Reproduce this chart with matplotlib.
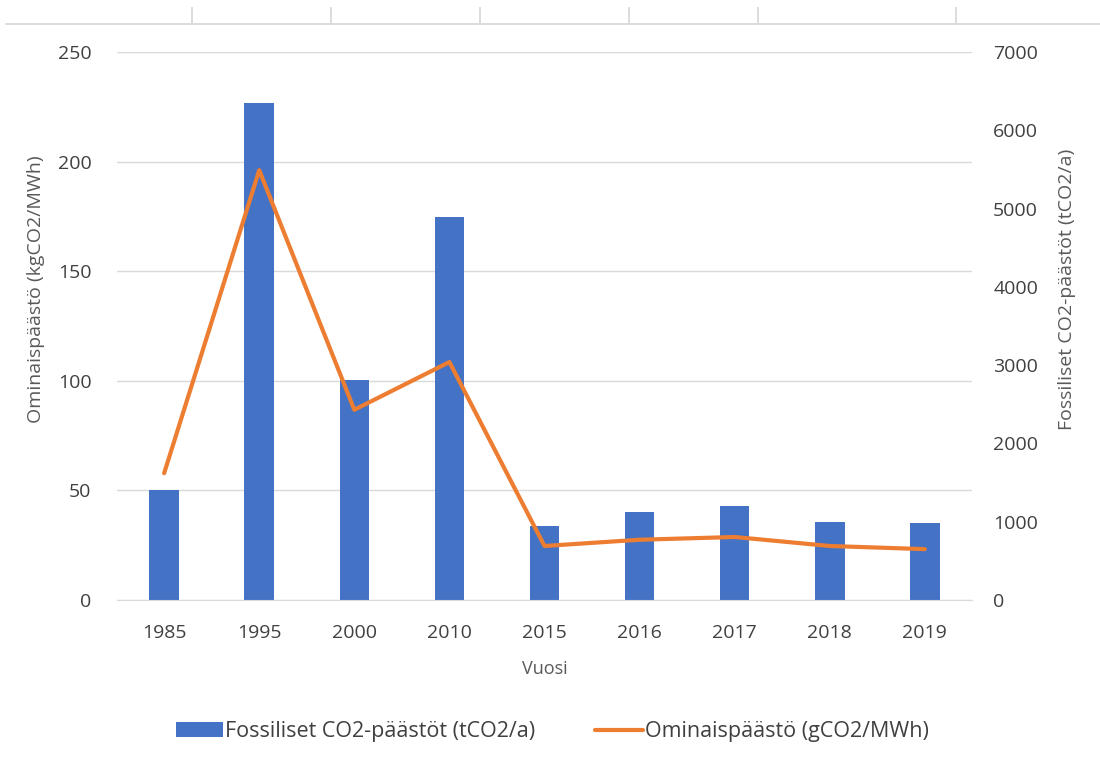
import matplotlib.pyplot as plt
from matplotlib.lines import Line2D
import numpy as np

plt.rcParams["font.family"] = ["Open Sans", "DejaVu Sans"]

# ----------- data -------------------------------------
years = ["1985", "1995", "2000", "2010", "2015", "2016", "2017", "2018", "2019"]
fossil_co2 = [50.2, 226.7, 100.4, 174.7, 33.8, 40.1, 42.9, 35.6, 35.1]  # left axis
specific_em = [1620, 5490, 2430, 3040, 690, 770, 805, 690, 650]  # right axis

BAR_COLOR = "#4472C4"
LINE_COLOR = "#ED7D31"
GRID_COLOR = "#D9D9D9"
TEXT_COLOR = "#404040"
LABEL_COLOR = "#595959"

fig = plt.figure(figsize=(11, 7.6), dpi=100)
ax = fig.add_axes([0.106, 0.2105, 0.778, 0.7211])
ax2 = ax.twinx()

x = np.arange(len(years))
ax.bar(x, fossil_co2, width=0.31, color=BAR_COLOR, zorder=2,
       label="Fossiliset CO2-päästöt (tCO2/a)")
ax2.plot(x, specific_em, color=LINE_COLOR, lw=3, solid_capstyle="round",
         label="Ominaispäästö (gCO2/MWh)")

ax.set_xlim(-0.5, len(years) - 0.5)
ax.set_ylim(0, 250)
ax.set_yticks(range(0, 251, 50))
ax2.set_ylim(0, 7000)
ax2.set_yticks(range(0, 7001, 1000))
ax.set_xticks(x)
ax.set_xticklabels(years)

ax.grid(axis="y", color=GRID_COLOR, lw=1, zorder=0)
ax.set_axisbelow(True)
for a in (ax, ax2):
    for s in a.spines.values():
        s.set_visible(False)
    a.tick_params(length=0, labelsize=14, labelcolor=TEXT_COLOR)
ax.tick_params(axis="y", pad=18)
ax.tick_params(axis="x", pad=17)
ax2.tick_params(axis="y", pad=15)
ax.spines["bottom"].set_visible(True)
ax.spines["bottom"].set_color(GRID_COLOR)

ax.set_ylabel("Ominaispäästö (kgCO2/MWh)", fontsize=14, color=LABEL_COLOR)
ax2.set_ylabel("Fossiliset CO2-päästöt (tCO2/a)", fontsize=14, color=LABEL_COLOR)
ax.yaxis.set_label_coords(-0.084, 0.567)
ax2.yaxis.set_label_coords(1.1, 0.567)
ax.set_xlabel("Vuosi", fontsize=13, color=LABEL_COLOR, labelpad=13)

handles = [ax.containers[0], ax2.get_lines()[0]]
fig.legend(handles, [h.get_label() for h in handles], loc="center",
           bbox_to_anchor=(0.502, 0.037), ncol=2, frameon=False,
           fontsize=15.5, labelcolor=TEXT_COLOR, handlelength=2.2,
           handletextpad=0.1, columnspacing=2.8)

# leftover border of the table above the chart
fig.add_artist(Line2D([0.005, 1.0], [1 - 24 / 760] * 2, color=GRID_COLOR, lw=1.3))
for px in [192, 331, 480, 629, 758, 956]:
    fig.add_artist(Line2D([px / 1100] * 2, [1 - 8 / 760, 1 - 24 / 760],
                          color=GRID_COLOR, lw=1.3))

fig.savefig("out.png", dpi=100)
